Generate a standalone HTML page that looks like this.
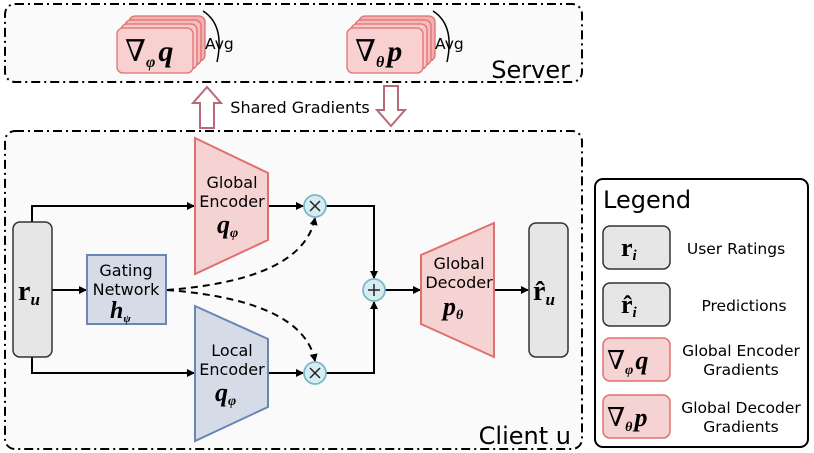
<!DOCTYPE html>
<html><head><style>
body{margin:0;background:#fff}
svg{display:block;font-family:"DejaVu Sans","Liberation Sans",sans-serif}
.m{font-family:"Liberation Serif","DejaVu Serif",serif;font-style:italic;font-weight:bold}
.n{font-family:"DejaVu Serif","Liberation Serif",serif;font-weight:normal;font-style:normal}
</style></head><body>
<svg width="814" height="453" viewBox="0 0 814 453" xmlns="http://www.w3.org/2000/svg">
<defs>
<marker id="a" markerWidth="8" markerHeight="8" refX="7" refY="4" orient="auto" markerUnits="userSpaceOnUse"><path d="M0,0 L8,4 L0,8 z" fill="#000"/></marker>
</defs>
<!-- server -->
<rect x="5" y="4" width="577" height="78" rx="10" fill="#fafafa" stroke="#000" stroke-width="2" stroke-dasharray="9,4,2,4"/>
<text x="570" y="78" font-size="24" text-anchor="end">Server</text>
<g stroke="#e07070" stroke-width="1.3" fill="#f7c8c8">
<rect x="129" y="16" width="76" height="45" rx="6" fill="#f2b0b0"/>
<rect x="125" y="20" width="76" height="45" rx="6" fill="#f4bcbc"/>
<rect x="121" y="24" width="76" height="45" rx="6"/>
<rect x="117" y="28" width="76" height="45" rx="6" fill="#f8d0d0"/>
<rect x="359" y="16" width="76" height="45" rx="6" fill="#f2b0b0"/>
<rect x="355" y="20" width="76" height="45" rx="6" fill="#f4bcbc"/>
<rect x="351" y="24" width="76" height="45" rx="6"/>
<rect x="347" y="28" width="76" height="45" rx="6" fill="#f8d0d0"/>
</g>
<text x="125" y="61" font-size="30" class="n">∇<tspan class="m" font-size="16" dy="6">φ</tspan><tspan class="m" dy="-6" dx="3">q</tspan></text>
<text x="355" y="61" font-size="30" class="n">∇<tspan class="m" font-size="16" dy="6">θ</tspan><tspan class="m" dy="-6" dx="3">p</tspan></text>
<path d="M203,11 Q225,25 217,62" fill="none" stroke="#000" stroke-width="1.5"/>
<path d="M433,11 Q455,25 447,62" fill="none" stroke="#000" stroke-width="1.5"/>
<text x="205" y="49" font-size="15.5">Avg</text>
<text x="435" y="49" font-size="15.5">Avg</text>
<!-- shared arrows -->
<path d="M200,128 V103 H193 L207,87 L221,103 H214 V128 Z" fill="#fff" stroke="#b86a7a" stroke-width="2"/>
<path d="M384,86 V110 H377 L391,126 L405,110 H398 V86 Z" fill="#fff" stroke="#b86a7a" stroke-width="2"/>
<text x="300" y="113" font-size="16" text-anchor="middle">Shared Gradients</text>
<!-- client -->
<rect x="5" y="131" width="577" height="318" rx="10" fill="#fafafa" stroke="#000" stroke-width="2" stroke-dasharray="9,4,2,4"/>
<text x="571" y="444" font-size="24" text-anchor="end">Client u</text>
<!-- lines -->
<g stroke="#000" stroke-width="2" fill="none">
<path d="M32,222 V206 H194" marker-end="url(#a)"/>
<path d="M32,357 V373 H194" marker-end="url(#a)"/>
<path d="M52,290 H86" marker-end="url(#a)"/>
<path d="M268,206 H303" marker-end="url(#a)"/>
<path d="M268,373 H303" marker-end="url(#a)"/>
<path d="M326,206 H374 V278" marker-end="url(#a)"/>
<path d="M326,373 H374 V302" marker-end="url(#a)"/>
<path d="M385,290 H420" marker-end="url(#a)"/>
<path d="M494,290 H528" marker-end="url(#a)"/>
<path d="M167,290 C230,285 305,270 315,218" stroke-dasharray="7,5" marker-end="url(#a)"/>
<path d="M167,290 C230,295 305,310 315,361" stroke-dasharray="7,5" marker-end="url(#a)"/>
</g>
<rect x="13" y="222" width="39" height="135" rx="7" fill="#e6e6e6" stroke="#333" stroke-width="1.5"/>
<text x="18" y="300" font-size="28" class="m" style="font-style:normal">r<tspan font-size="17" dy="5" font-style="italic">u</tspan></text>
<rect x="87" y="255" width="79" height="69" fill="#d5dce8" stroke="#6b86b5" stroke-width="2"/>
<text x="126" y="276" font-size="16" text-anchor="middle">Gating</text>
<text x="126" y="295" font-size="16" text-anchor="middle">Network</text>
<text x="110" y="318" font-size="24" class="m">h<tspan font-size="11" dy="4">ψ</tspan></text>
<polygon points="195,138 268,173 268,240 195,274" fill="#f6d3d3" stroke="#e07070" stroke-width="2"/>
<text x="232" y="188" font-size="16" text-anchor="middle">Global</text>
<text x="232" y="207" font-size="16" text-anchor="middle">Encoder</text>
<text x="217" y="233" font-size="26" class="m">q<tspan font-size="14" dy="4">φ</tspan></text>
<polygon points="195,306 268,339 268,407 195,441" fill="#d5dce8" stroke="#6b86b5" stroke-width="2"/>
<text x="232" y="356" font-size="16" text-anchor="middle">Local</text>
<text x="232" y="375" font-size="16" text-anchor="middle">Encoder</text>
<text x="215" y="401" font-size="26" class="m">q<tspan font-size="14" dy="4">φ</tspan></text>
<polygon points="421,255 494,223 494,357 421,324" fill="#f6d3d3" stroke="#e07070" stroke-width="2"/>
<text x="459" y="269" font-size="16" text-anchor="middle">Global</text>
<text x="459" y="288" font-size="16" text-anchor="middle">Decoder</text>
<text x="443" y="315" font-size="26" class="m">p<tspan font-size="14" dy="4">θ</tspan></text>
<rect x="529" y="223" width="39" height="134" rx="7" fill="#e6e6e6" stroke="#333" stroke-width="1.5"/>
<text x="533" y="300" font-size="28" class="m" style="font-style:normal">r̂<tspan font-size="17" dy="5" font-style="italic">u</tspan></text>
<g fill="#d6ecf0" stroke="#7ab8c8" stroke-width="1.8">
<circle cx="315" cy="206" r="11"/><circle cx="315" cy="373" r="11"/><circle cx="374" cy="290" r="11"/>
</g>
<g stroke="#222" stroke-width="1.5">
<path d="M310,201 L320,211 M320,201 L310,211"/><path d="M310,368 L320,378 M320,368 L310,378"/>
<path d="M368,290 H380 M374,284 V296"/>
</g>
<!-- legend -->
<rect x="595" y="179" width="213" height="268" rx="8" fill="#fff" stroke="#000" stroke-width="2"/>
<text x="603" y="208" font-size="24">Legend</text>
<rect x="603" y="226" width="67" height="43" rx="7" fill="#e6e6e6" stroke="#333" stroke-width="1.5"/>
<rect x="603" y="283" width="67" height="43" rx="7" fill="#e6e6e6" stroke="#333" stroke-width="1.5"/>
<rect x="603" y="338" width="67" height="43" rx="7" fill="#f6d3d3" stroke="#e07070" stroke-width="1.5"/>
<rect x="603" y="395" width="67" height="43" rx="7" fill="#f6d3d3" stroke="#e07070" stroke-width="1.5"/>
<text x="621" y="256" font-size="26" class="m" style="font-style:normal">r<tspan font-size="15" dy="4" font-style="italic">i</tspan></text>
<text x="621" y="313" font-size="26" class="m" style="font-style:normal">r̂<tspan font-size="15" dy="4" font-style="italic">i</tspan></text>
<text x="607" y="369" font-size="26" class="n">∇<tspan class="m" font-size="14" dy="5">φ</tspan><tspan class="m" dy="-5" dx="2">q</tspan></text>
<text x="607" y="426" font-size="26" class="n">∇<tspan class="m" font-size="14" dy="5">θ</tspan><tspan class="m" dy="-5" dx="2">p</tspan></text>
<g font-size="15.5" text-anchor="middle">
<text x="736" y="254">User Ratings</text>
<text x="744" y="311">Predictions</text>
<text x="741" y="356">Global Encoder</text>
<text x="741" y="375">Gradients</text>
<text x="741" y="413">Global Decoder</text>
<text x="741" y="432">Gradients</text>
</g>
</svg>
</body></html>
